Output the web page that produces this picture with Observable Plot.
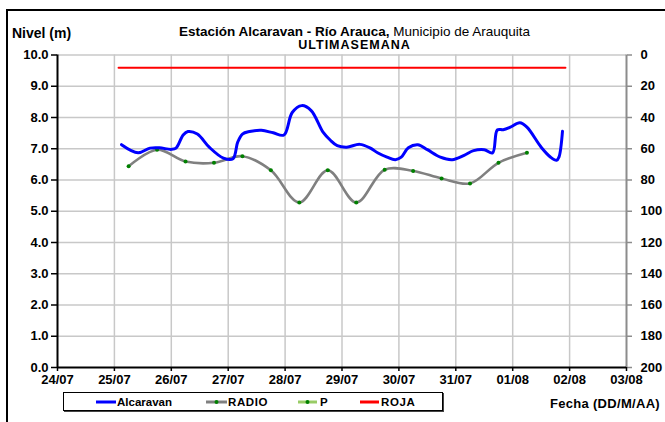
<!DOCTYPE html>
<html>
<head>
<meta charset="utf-8">
<script src="https://cdn.jsdelivr.net/npm/d3@7"></script>
<script src="https://cdn.jsdelivr.net/npm/@observablehq/plot@0.6"></script>
<style>
  html, body { margin:0; padding:0; background:#fff; overflow:hidden; }
  #wrap { position:relative; width:665px; height:422px; overflow:hidden; font-family:"Liberation Sans", Arial, sans-serif; color:#000; }
  #wrap svg.plot { position:absolute; left:0; top:0; }
  .abs { position:absolute; white-space:nowrap; line-height:1; }
  #frame { position:absolute; left:6px; top:8.5px; width:720px; height:500px; border:2.5px solid #000; box-sizing:border-box; }
  #legend { position:absolute; left:63px; top:392px; width:380px; height:19px; border:1px solid #000; box-shadow:1px 1px 0 #444; box-sizing:border-box; background:#fff; }
</style>
</head>
<body>
<div id="wrap">
  <div id="frame"></div>
</div>
<script>
// ---- data ----
const year = "2013";
const alcaravanTimes = ["25/07 03:00","25/07 10:00","25/07 15:00","25/07 19:00","26/07 00:00","26/07 02:00","26/07 05:00","26/07 07:00","26/07 11:00","26/07 16:00","26/07 22:00","27/07 02:00","27/07 04:00","27/07 06:00","27/07 09:00","27/07 14:00","27/07 19:00","27/07 23:30","28/07 03:00","28/07 07:00","28/07 11:00","28/07 16:00","28/07 19:00","28/07 22:00","29/07 02:00","29/07 07:30","29/07 12:00","29/07 15:00","29/07 19:00","29/07 22:30","30/07 01:00","30/07 04:00","30/07 08:00","30/07 12:00","30/07 17:30","30/07 22:30","31/07 03:30","31/07 07:30","31/07 12:00","31/07 15:30","31/07 17:30","31/07 20:00","31/07 23:00","01/08 03:00","01/08 06:00","01/08 12:00","01/08 16:00","01/08 18:30","01/08 19:30","01/08 21:00"];
const alcaravanLevels = [7.13,6.87,7.02,7.03,6.98,7.02,7.44,7.55,7.47,7.05,6.70,6.68,7.21,7.47,7.55,7.59,7.51,7.44,8.16,8.38,8.22,7.53,7.28,7.10,7.05,7.14,7.02,6.87,6.73,6.65,6.73,7.03,7.13,6.97,6.73,6.65,6.79,6.94,6.97,6.87,7.60,7.61,7.69,7.83,7.69,7.05,6.73,6.63,6.73,7.56];
const radioTimes = ["25/07 06:00","25/07 18:00","26/07 06:00","26/07 18:00","27/07 06:00","27/07 18:00","28/07 06:00","28/07 18:00","29/07 06:00","29/07 18:00","30/07 06:00","30/07 18:00","31/07 06:00","31/07 18:00","01/08 06:00"];
const radioLevels = [6.44,6.97,6.59,6.55,6.76,6.31,5.28,6.31,5.28,6.33,6.29,6.05,5.89,6.55,6.87];
const rojaTimes = ["25/07 01:45","01/08 22:15"];
const rojaLevels = [9.59,9.59];
const xTickLabels = ["24/07","25/07","26/07","27/07","28/07","29/07","30/07","31/07","01/08","02/08","03/08"];
const leftTicks = [0,1,2,3,4,5,6,7,8,9,10];
const rightTicks = [0,20,40,60,80,100,120,140,160,180,200];
const seriesNames = ["Alcaravan","RADIO","P","ROJA"];

// ---- build ----
const parse = d3.utcParse("%d/%m/%Y %H:%M");
const t = s => parse(s.replace(" ", "/" + year + " "));
const alcaravan = alcaravanTimes.map((s,i) => ({date:t(s), level:alcaravanLevels[i]}));
const radio = radioTimes.map((s,i) => ({date:t(s), level:radioLevels[i]}));
const roja = rojaTimes.map((s,i) => ({date:t(s), level:rojaLevels[i]}));
const xTicks = xTickLabels.map(s => t(s + " 00:00"));
const x0 = xTicks[0], x1 = xTicks[xTicks.length-1];
const toLevel = v => 10 - v/20;

const chart = Plot.plot({
  width:665, height:422,
  marginLeft:57, marginRight:39, marginTop:54.5, marginBottom:55,
  x:{type:"utc", domain:[x0, x1], label:null},
  y:{domain:[0,10], label:null},
  style:{fontFamily:"'Liberation Sans', Arial, sans-serif", fontWeight:"bold", fontSize:"13px", color:"#000", background:"transparent", overflow:"visible"},
  marks:[
    Plot.gridX(xTicks.slice(1,-1), {stroke:"#c8c8c8", strokeOpacity:1, strokeWidth:1.5}),
    Plot.gridY(leftTicks.slice(1), {stroke:"#c8c8c8", strokeOpacity:1, strokeWidth:1.5}),
    Plot.ruleX([x1], {stroke:"#8c8c8c", strokeWidth:2}),
    Plot.axisY(rightTicks.map(toLevel), {anchor:"right", label:null, tickSize:5, tickPadding:9, stroke:"#8c8c8c", strokeWidth:1.5, fill:"#000", fontWeight:"bold", fontSize:13, tickFormat:d => String(Math.round((10-d)*20))}),
    Plot.axisY(leftTicks, {anchor:"left", label:null, tickSize:6, tickPadding:3, stroke:"#000", strokeWidth:1.5, fill:"#000", fontWeight:"bold", fontSize:13, tickFormat:d => d.toFixed(1)}),
    Plot.axisX(xTicks, {anchor:"bottom", label:null, tickSize:4, tickPadding:3, stroke:"#000", strokeWidth:1.5, fill:"#000", fontWeight:"bold", fontSize:13, tickFormat:d3.utcFormat("%d/%m")}),
    Plot.ruleX([x0], {stroke:"#000", strokeWidth:2}),
    Plot.ruleY([0], {stroke:"#000", strokeWidth:2}),
    Plot.line(roja, {x:"date", y:"level", stroke:"#ff0000", strokeWidth:2}),
    Plot.line(radio, {x:"date", y:"level", stroke:"#808080", strokeWidth:2.6, curve:"catmull-rom"}),
    Plot.dot(radio, {x:"date", y:"level", r:2, fill:"#008000", stroke:"none"}),
    Plot.line(alcaravan, {x:"date", y:"level", stroke:"#0000ff", strokeWidth:3, curve:"catmull-rom"})
  ]
});
const wrap = document.getElementById("wrap");
chart.classList.add("plot");
wrap.insertBefore(chart, wrap.firstChild);

function addText(txt, left, top, css) {
  const d = document.createElement("div");
  d.className = "abs";
  d.innerHTML = txt;
  d.style.left = left + "px"; d.style.top = top + "px";
  Object.assign(d.style, css || {});
  wrap.appendChild(d);
  return d;
}
addText("Nivel (m)", 12, 26, {fontSize:"14px", fontWeight:"bold"});
addText("<b>Estación Alcaravan - Río Arauca,</b> Municipio de Arauquita", 22, 25, {fontSize:"13.5px", width:"665px", textAlign:"center"});
addText("ULTIMASEMANA", 22, 39, {fontSize:"12.5px", fontWeight:"bold", width:"665px", textAlign:"center", letterSpacing:"1px"});
addText("Fecha (DD/M/AA)", 550, 397, {fontSize:"13px", fontWeight:"bold", letterSpacing:"0.3px"});

const legend = document.createElement("div");
legend.id = "legend";
wrap.appendChild(legend);
function swatch(left, color, width, dot, dotColor) {
  const ns = "http://www.w3.org/2000/svg";
  const s = document.createElementNS(ns, "svg");
  s.setAttribute("width", width); s.setAttribute("height", 8);
  s.style.position = "absolute"; s.style.left = left + "px"; s.style.top = "398px";
  const l = document.createElementNS(ns, "line");
  l.setAttribute("x1", 0); l.setAttribute("x2", width); l.setAttribute("y1", 4); l.setAttribute("y2", 4);
  l.setAttribute("stroke", color); l.setAttribute("stroke-width", 3);
  s.appendChild(l);
  if (dot) {
    const c = document.createElementNS(ns, "circle");
    c.setAttribute("cx", width/2); c.setAttribute("cy", 4); c.setAttribute("r", 2); c.setAttribute("fill", dotColor);
    s.appendChild(c);
  }
  wrap.appendChild(s);
}
swatch(96, "#0000ff", 20, false);
swatch(206, "#808080", 21, true, "#008000");
swatch(298, "#99cc66", 19, true, "#008000");
swatch(360, "#ff0000", 19, false);
[[seriesNames[0],117],[seriesNames[1],228],[seriesNames[2],320],[seriesNames[3],381]].forEach(([n,l]) => {
  addText(n, l, 397, {fontSize:"11.5px", fontWeight:"bold", letterSpacing: n==="RADIO"||n==="ROJA" ? "0.6px" : "0"});
});
</script>
</body>
</html>
